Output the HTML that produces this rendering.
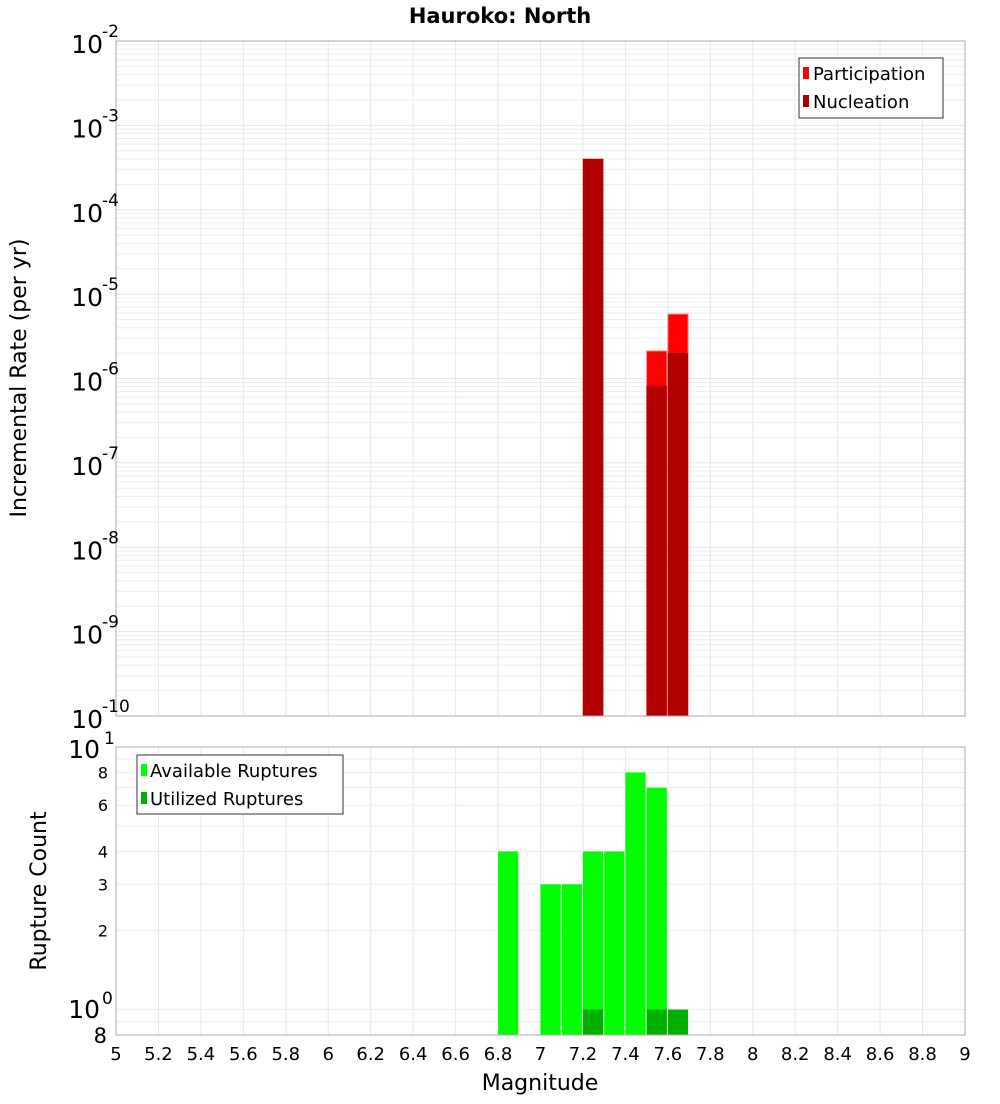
<!DOCTYPE html>
<html><head><meta charset="utf-8"><style>
body{margin:0;background:#fff;font-family:"DejaVu Sans","Liberation Sans",sans-serif;}
svg text{font-family:"DejaVu Sans","Liberation Sans",sans-serif;}
</style></head><body>
<svg id="c" width="1000" height="1100" xmlns="http://www.w3.org/2000/svg">
<text x="500" y="23" text-anchor="middle" font-size="21" font-weight="bold">Hauroko: North</text>
<g id="g"></g>
</svg>
<script>
const binMags=[7.25,7.55,7.65];
const participation=[4.0e-4,2.12e-6,5.8e-6];
const nucleation=[4.0e-4,8.2e-7,2.0e-6];
const availMags=[6.85,7.05,7.15,7.25,7.35,7.45,7.55];
const availCounts=[4,3,3,4,4,8,7];
const usedMags=[7.25,7.55,7.65];
const usedCounts=[1,1,1];
const xTicks=[5,5.2,5.4,5.6,5.8,6,6.2,6.4,6.6,6.8,7,7.2,7.4,7.6,7.8,8,8.2,8.4,8.6,8.8,9];
const topExps=[-2,-3,-4,-5,-6,-7,-8,-9,-10];
const botTicks=[8,6,4,3,2];

const NS="http://www.w3.org/2000/svg";
const g=document.getElementById('g');
function el(t,a,name,txt){const e=document.createElementNS(NS,t);for(const k in a)e.setAttribute(k,a[k]);


if(txt!==undefined)e.textContent=txt;g.appendChild(e);return e;}
const L=116,R=965,T1=41,B1=716,T2=747,B2=1035;
const x=m=>L+(m-5)/4*(R-L);
const y1=v=>T1+(-2-Math.log10(v))/8*(B1-T1);
const y2=v=>T2+(1-Math.log10(v))/(1-Math.log10(0.8))*(B2-T2);
// top grid
for(let e=-10;e<-2;e++)for(let k=1;k<10;k++){const yy=y1(k*Math.pow(10,e));
el('line',{x1:L,x2:R,y1:yy,y2:yy,stroke:k==1?'#e4e4e4':'#eeeeee','stroke-width':1},'grid-line-y');}
for(const t of xTicks){el('line',{x1:x(t),x2:x(t),y1:T1,y2:B1,stroke:'#e8e8e8'},'grid-line-x');
el('line',{x1:x(t),x2:x(t),y1:T2,y2:B2,stroke:'#e8e8e8'},'grid-line-x');}
// bottom grid
for(let v=0.8;v<=10.01;v+=(v<1?0.1:1)){const yy=y2(v);el('line',{x1:L,x2:R,y1:yy,y2:yy,stroke:'#ececec'},'grid-line-y');}
// top bars
const bw=(R-L)/40;
binMags.forEach((m,i)=>{
 el('rect',{x:x(m)-bw/2,y:y1(participation[i]),width:bw-1,height:B1-y1(participation[i]),fill:'#ff0000',stroke:'#ff8080','stroke-width':1},'participation-bar');
 el('rect',{x:x(m)-bw/2,y:y1(nucleation[i]),width:bw-1,height:B1-y1(nucleation[i]),fill:'#b00000'},'nucleation-bar');
});
availMags.forEach((m,i)=>{el('rect',{x:x(m)-bw/2,y:y2(availCounts[i]),width:bw-1,height:B2-y2(availCounts[i]),fill:'#00ff00'},'available-bar');});
usedMags.forEach((m,i)=>{el('rect',{x:x(m)-bw/2,y:y2(usedCounts[i]),width:bw-1,height:B2-y2(usedCounts[i]),fill:'#00b000'},'utilized-bar');});
// frames
el('rect',{x:L,y:T1,width:R-L,height:B1-T1,fill:'none',stroke:'#aaa'},'top-plot-frame');
el('rect',{x:L,y:T2,width:R-L,height:B2-T2,fill:'none',stroke:'#aaa'},'bottom-plot-frame');
// top y labels
topExps.forEach(e=>{const yy=y1(Math.pow(10,e));
 const t=el('text',{x:103,y:yy+12,'font-size':25,'text-anchor':'end'},'y-tick-label','10');
 el('text',{x:102,y:yy-4,'font-size':17},'y-tick-exponent',String(e));});
el('text',{x:100,y:758,'font-size':25,'text-anchor':'end'},'y-tick-label','10');
el('text',{x:104,y:744,'font-size':17},'y-tick-exponent','1');
el('text',{x:100,y:1018,'font-size':25,'text-anchor':'end'},'y-tick-label','10');
el('text',{x:102,y:1004,'font-size':17},'y-tick-exponent','0');
el('text',{x:107,y:1043,'font-size':21,'text-anchor':'end'},'y-tick-label','8');
botTicks.forEach(v=>{el('text',{x:108,y:y2(v)+6,'font-size':16,'text-anchor':'end'},'y-tick-label',String(v));});
xTicks.forEach(t=>{el('text',{x:x(t),y:1060,'font-size':18,'text-anchor':'middle'},'x-tick-label',String(t));});
el('text',{x:540,y:1090,'font-size':22,'text-anchor':'middle'},'x-axis-title','Magnitude');
el('text',{x:26,y:378,'font-size':22,'text-anchor':'middle',transform:'rotate(-90 26 378)'},'y-axis-title-top','Incremental Rate (per yr)');
el('text',{x:46,y:891,'font-size':22,'text-anchor':'middle',transform:'rotate(-90 46 891)'},'y-axis-title-bottom','Rupture Count');
// legends
el('rect',{x:799,y:58,width:144,height:60,fill:'#fff',stroke:'#333'},'legend-top');
el('rect',{x:803,y:67,width:6,height:12,fill:'#ff0000'},'legend-swatch-participation');
el('text',{x:813,y:80,'font-size':18},'legend-entry-participation','Participation');
el('rect',{x:803,y:95,width:6,height:12,fill:'#b00000'},'legend-swatch-nucleation');
el('text',{x:813,y:108,'font-size':18},'legend-entry-nucleation','Nucleation');
el('rect',{x:137,y:755,width:206,height:59,fill:'#fff',stroke:'#333'},'legend-bottom');
el('rect',{x:141,y:764,width:6,height:12,fill:'#00ff00'},'legend-swatch-available');
el('text',{x:150,y:777,'font-size':18},'legend-entry-available','Available Ruptures');
el('rect',{x:141,y:792,width:6,height:12,fill:'#00b000'},'legend-swatch-utilized');
el('text',{x:150,y:805,'font-size':18},'legend-entry-utilized','Utilized Ruptures');
</script>
</body></html>
